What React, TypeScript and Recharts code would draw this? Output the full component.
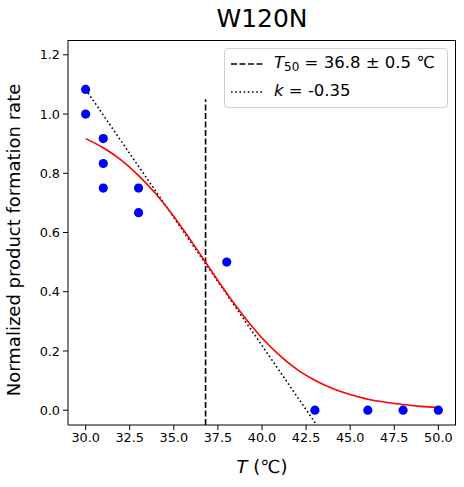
import React from "react";
import {
  ComposedChart,
  Line,
  Scatter,
  XAxis,
  YAxis,
} from "recharts";

// measured points (T, normalized rate)
const pointT = [30, 30, 31, 31, 31, 33, 33, 38, 43, 46, 48, 50];
const pointRate = [1.083, 1.0, 0.917, 0.833, 0.75, 0.75, 0.667, 0.5, 0, 0, 0, 0];

// fitted curve
const fitT = [30, 31, 32, 33, 34, 35, 36, 37, 38, 39, 40, 41, 42, 43, 44, 45, 46, 47, 48, 49, 50];
const fitRate = [
  0.917, 0.886, 0.845, 0.792, 0.729, 0.654, 0.57, 0.482, 0.395, 0.315, 0.244,
  0.185, 0.137, 0.101, 0.073, 0.053, 0.037, 0.027, 0.019, 0.013, 0.009,
];

// tangent at T50 (dotted) and T50 marker (dashed)
const tangentT = [30.0, 43.1];
const tangentRate = [1.083, -0.05];
const t50T = [36.8, 36.8];
const t50Rate = [-0.05, 1.05];

const xTicks = [30, 32.5, 35, 37.5, 40, 42.5, 45, 47.5, 50];
const yTicks = [0, 0.2, 0.4, 0.6, 0.8, 1.0, 1.2];

const zip = (xs: number[], ys: number[]) => xs.map((x, i) => ({ x, y: ys[i] }));

const FONT = "DejaVu Sans, sans-serif";
const W = 464;
const H = 487;
const X_DOMAIN: [number, number] = [29, 51];
const Y_DOMAIN: [number, number] = [-0.05, 1.25];

export default function App() {
  const points = zip(pointT, pointRate);
  const fit = zip(fitT, fitRate);
  const tangent = zip(tangentT, tangentRate);
  const t50 = zip(t50T, t50Rate);

  const tickStyle = { fontFamily: FONT, fontSize: 12.8, fill: "#000" };

  return (
    <div style={{ position: "absolute", left: 0, top: 0, width: W, height: H, background: "#fff", fontFamily: FONT }}>
      <ComposedChart
        width={W}
        height={H}
        margin={{ top: 40, right: 8, bottom: 0, left: 0 }}
      >
        <XAxis
          type="number"
          dataKey="x"
          domain={X_DOMAIN}
          ticks={xTicks}
          allowDataOverflow
          tickFormatter={(v: number) => v.toFixed(1)}
          tick={tickStyle}
          tickSize={5}
          tickMargin={3}
          axisLine={{ stroke: "#000" }}
          tickLine={{ stroke: "#000" }}
          height={62}
          label={{
            position: "insideBottom",
            content: () => (
              <text x={262} y={473} textAnchor="middle" fontFamily={FONT} fontSize={18} fill="#000">
                <tspan fontStyle="italic">T</tspan>
                <tspan> (℃)</tspan>
              </text>
            ),
          }}
        />
        <YAxis
          type="number"
          dataKey="y"
          domain={Y_DOMAIN}
          ticks={yTicks}
          allowDataOverflow
          tickFormatter={(v: number) => v.toFixed(1)}
          tick={tickStyle}
          tickSize={5}
          tickMargin={3}
          axisLine={{ stroke: "#000" }}
          tickLine={{ stroke: "#000" }}
          width={68}
          label={{
            content: () => (
              <text
                x={20}
                y={240}
                textAnchor="middle"
                transform="rotate(-90 20 240)"
                fontFamily={FONT}
                fontSize={18}
                fill="#000"
              >
                Normalized product formation rate
              </text>
            ),
          }}
        />
        <Line
          data={t50}
          dataKey="y"
          stroke="#000"
          strokeWidth={1.6}
          strokeDasharray="6 2.5"
          dot={false}
          activeDot={false}
          isAnimationActive={false}
        />
        <Line
          data={tangent}
          dataKey="y"
          stroke="#000"
          strokeWidth={1.6}
          strokeDasharray="1.6 2.6"
          dot={false}
          activeDot={false}
          isAnimationActive={false}
        />
        <Line
          data={fit}
          dataKey="y"
          type="monotone"
          stroke="#ff0000"
          strokeWidth={1.6}
          dot={false}
          activeDot={false}
          isAnimationActive={false}
        />
        <Scatter
          data={points}
          dataKey="y"
          fill="#0000ff"
          shape={(p: any) => <circle cx={p.cx} cy={p.cy} r={4.6} fill="#0000ff" />}
          isAnimationActive={false}
        />
      </ComposedChart>

      {/* plot frame (top and right spines) */}
      <div
        style={{
          position: "absolute",
          left: 68,
          top: 40,
          width: 388,
          height: 385,
          boxSizing: "border-box",
          borderTop: "1px solid #000",
          borderRight: "1px solid #000",
          pointerEvents: "none",
        }}
      />

      <div
        style={{
          position: "absolute",
          left: 0,
          width: 524,
          top: 4,
          textAlign: "center",
          fontSize: 25,
          color: "#000",
          lineHeight: "30px",
        }}
      >
        W120N
      </div>

      <div
        style={{
          position: "absolute",
          left: 224,
          top: 48,
          width: 224,
          height: 60,
          boxSizing: "border-box",
          border: "1px solid #d0d0d0",
          borderRadius: 4,
          background: "rgba(255,255,255,0.8)",
          fontSize: 16.5,
          color: "#000",
        }}
      >
        <svg width={40} height={60} style={{ position: "absolute", left: 0, top: 0 }}>
          <line x1={6} x2={38} y1={15} y2={15} stroke="#000" strokeWidth={1.6} strokeDasharray="6 2.5" />
          <line x1={6} x2={38} y1={43} y2={43} stroke="#000" strokeWidth={1.6} strokeDasharray="1.6 2.6" />
        </svg>
        <div style={{ position: "absolute", left: 49, top: 3, whiteSpace: "nowrap", lineHeight: "22px" }}>
          <i>T</i>
          <sub style={{ fontSize: 12, verticalAlign: "-3px" }}>50</sub> = 36.8 ± 0.5 ℃
        </div>
        <div style={{ position: "absolute", left: 49, top: 31, whiteSpace: "nowrap", lineHeight: "22px" }}>
          <i>k</i> = -0.35
        </div>
      </div>
    </div>
  );
}
